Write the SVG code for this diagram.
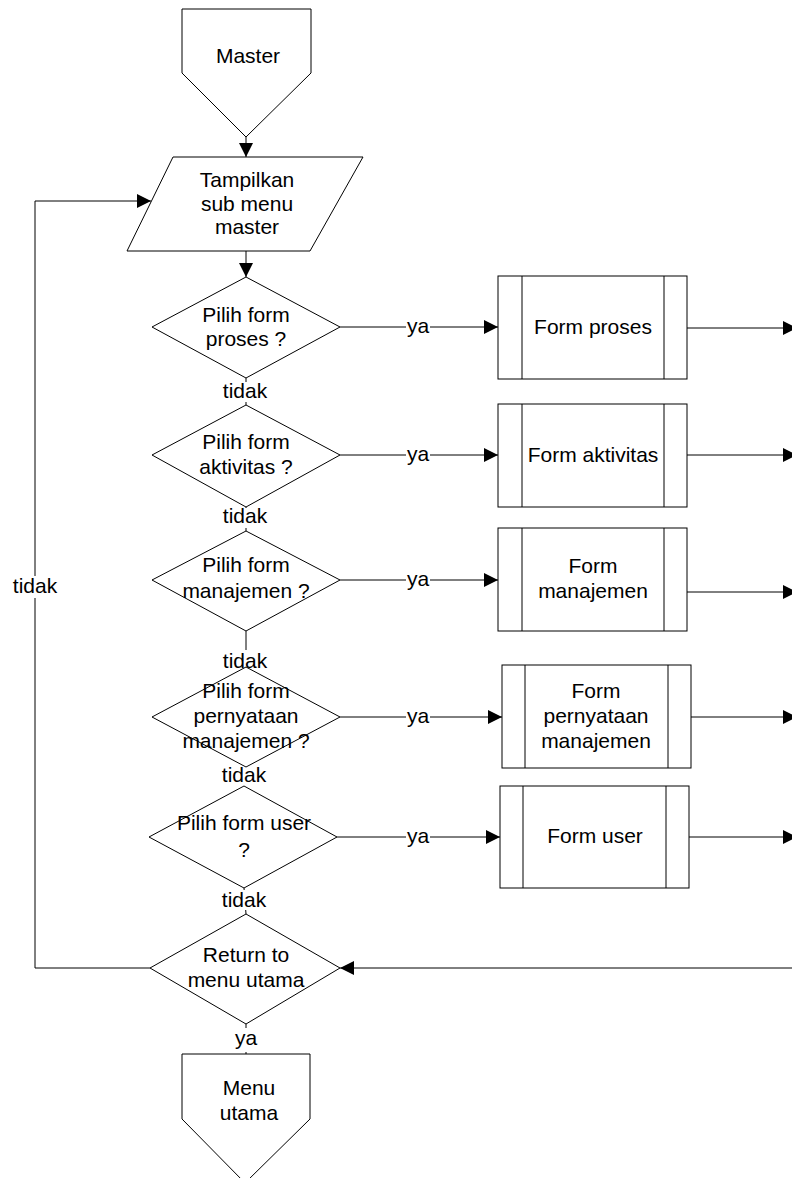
<svg xmlns="http://www.w3.org/2000/svg" width="792" height="1178" viewBox="0 0 792 1178">
<style>
.s{fill:#fff;stroke:#000;stroke-width:1}
.c{fill:none;stroke:#000;stroke-width:1}
.t{font-family:"Liberation Sans",Arial,sans-serif;font-size:21px;fill:#000;text-anchor:middle}
.bg{fill:#fff;stroke:none}
</style>
<defs>
<marker id="a" markerUnits="userSpaceOnUse" markerWidth="14" markerHeight="14" refX="14" refY="7" orient="auto">
<path d="M0,0 L14,7 L0,14 z" fill="#000"/>
</marker>
</defs>
<rect width="792" height="1178" fill="#fff"/>
<g id="connectors">
<line class="c" x1="246" y1="137" x2="246" y2="157" marker-end="url(#a)"/>
<line class="c" x1="246" y1="251" x2="246" y2="277" marker-end="url(#a)"/>
<line class="c" x1="246" y1="378" x2="246" y2="405"/>
<line class="c" x1="246" y1="507" x2="246" y2="531"/>
<line class="c" x1="246" y1="631" x2="246" y2="667"/>
<line class="c" x1="246" y1="767" x2="244" y2="786"/>
<line class="c" x1="244" y1="888" x2="246" y2="914"/>
<line class="c" x1="246" y1="1024" x2="246" y2="1054"/>
<line class="c" x1="340" y1="327" x2="498" y2="327" marker-end="url(#a)"/>
<line class="c" x1="340" y1="455" x2="498" y2="455" marker-end="url(#a)"/>
<line class="c" x1="340" y1="580" x2="498" y2="580" marker-end="url(#a)"/>
<line class="c" x1="340" y1="717" x2="502" y2="717" marker-end="url(#a)"/>
<line class="c" x1="337" y1="837" x2="500" y2="837" marker-end="url(#a)"/>
<line class="c" x1="687" y1="328" x2="797" y2="328" marker-end="url(#a)"/>
<line class="c" x1="687" y1="455" x2="797" y2="455" marker-end="url(#a)"/>
<line class="c" x1="687" y1="592" x2="797" y2="592" marker-end="url(#a)"/>
<line class="c" x1="691" y1="717" x2="797" y2="717" marker-end="url(#a)"/>
<line class="c" x1="689" y1="837" x2="797" y2="837" marker-end="url(#a)"/>
<line class="c" x1="792" y1="968" x2="340" y2="968" marker-end="url(#a)"/>
<polyline class="c" points="150,968 35,968 35,201 151,201" marker-end="url(#a)"/>
<rect class="bg" x="406" y="318" width="24" height="20"/><text class="t" x="418" y="333">ya</text>
<rect class="bg" x="406" y="446" width="24" height="20"/><text class="t" x="418" y="461">ya</text>
<rect class="bg" x="406" y="571" width="24" height="20"/><text class="t" x="418" y="586">ya</text>
<rect class="bg" x="406" y="708" width="24" height="20"/><text class="t" x="418" y="723">ya</text>
<rect class="bg" x="406" y="828" width="24" height="20"/><text class="t" x="418" y="843">ya</text>
<rect class="bg" x="222" y="382" width="48" height="20"/><text class="t" x="245" y="398">tidak</text>
<rect class="bg" x="222" y="508" width="48" height="20"/><text class="t" x="245" y="523">tidak</text>
<rect class="bg" x="222" y="650" width="48" height="20"/><text class="t" x="245" y="668">tidak</text>
<rect class="bg" x="221" y="766" width="48" height="20"/><text class="t" x="244" y="782">tidak</text>
<rect class="bg" x="221" y="890" width="48" height="20"/><text class="t" x="244" y="907">tidak</text>
<rect class="bg" x="11" y="576" width="48" height="22"/><text class="t" x="35" y="593">tidak</text>
<rect class="bg" x="234" y="1028" width="24" height="24"/><text class="t" x="246" y="1045">ya</text>
</g>
<g id="master"><polygon class="s" points="182,9 311,9 311,73 246,137 182,73"/><text class="t" x="248" y="63">Master</text></g>
<g id="tampilkan"><polygon class="s" points="173,157 363,157 310,251 127,251"/><text class="t" x="247" y="187">Tampilkan</text><text class="t" x="247" y="211">sub menu</text><text class="t" x="247" y="234">master</text></g>
<g id="d1"><polygon class="s" points="246,277 340,327 246,378 152,327"/><text class="t" x="246" y="322">Pilih form</text><text class="t" x="246" y="346">proses ?</text></g>
<g id="d2"><polygon class="s" points="246,405 340,455 246,507 152,455"/><text class="t" x="246" y="449">Pilih form</text><text class="t" x="246" y="474">aktivitas ?</text></g>
<g id="d3"><polygon class="s" points="246,531 340,580 246,631 152,580"/><text class="t" x="246" y="572">Pilih form</text><text class="t" x="246" y="598">manajemen ?</text></g>
<g id="d4"><polygon class="s" points="246,667 340,717 246,767 152,717" style="fill:none"/><text class="t" x="246" y="698">Pilih form</text><text class="t" x="246" y="723">pernyataan</text><text class="t" x="246" y="748">manajemen ?</text></g>
<g id="d5"><polygon class="s" points="244,786 337,837 244,888 149,837" style="fill:none"/><text class="t" x="244" y="830">Pilih form user</text><text class="t" x="244" y="857">?</text></g>
<g id="d6"><polygon class="s" points="246,914 340,968 246,1024 150,968"/><text class="t" x="246" y="962">Return to</text><text class="t" x="246" y="987">menu utama</text></g>
<g id="b1"><rect class="s" x="498" y="276" width="189" height="103"/><line class="c" x1="522" y1="276" x2="522" y2="379"/><line class="c" x1="664" y1="276" x2="664" y2="379"/><text class="t" x="593" y="334">Form proses</text></g>
<g id="b2"><rect class="s" x="498" y="404" width="189" height="103"/><line class="c" x1="522" y1="404" x2="522" y2="507"/><line class="c" x1="664" y1="404" x2="664" y2="507"/><text class="t" x="593" y="462">Form aktivitas</text></g>
<g id="b3"><rect class="s" x="498" y="528" width="189" height="103"/><line class="c" x1="522" y1="528" x2="522" y2="631"/><line class="c" x1="664" y1="528" x2="664" y2="631"/><text class="t" x="593" y="573">Form</text><text class="t" x="593" y="598">manajemen</text></g>
<g id="b4"><rect class="s" x="502" y="665" width="189" height="103"/><line class="c" x1="525" y1="665" x2="525" y2="768"/><line class="c" x1="668" y1="665" x2="668" y2="768"/><text class="t" x="596" y="698">Form</text><text class="t" x="596" y="723">pernyataan</text><text class="t" x="596" y="748">manajemen</text></g>
<g id="b5"><rect class="s" x="500" y="786" width="189" height="102"/><line class="c" x1="523" y1="786" x2="523" y2="888"/><line class="c" x1="666" y1="786" x2="666" y2="888"/><text class="t" x="595" y="843">Form user</text></g>
<g id="menuutama"><polygon class="s" points="182,1054 310,1054 310,1119 245,1183 182,1119"/><text class="t" x="249" y="1095">Menu</text><text class="t" x="249" y="1120">utama</text></g>
</svg>
